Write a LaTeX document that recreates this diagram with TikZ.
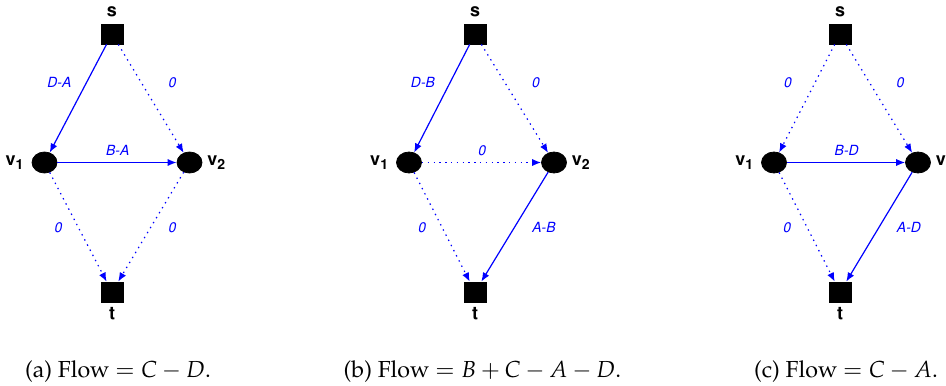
\documentclass[tikz,border=0pt]{standalone}
\usepackage[T1]{fontenc}
\usepackage{mathpazo}
\usepackage{helvet}
\usetikzlibrary{arrows.meta,positioning,shapes.geometric}
\tikzset{
  termbox/.style={draw=black, fill=black, minimum width=11pt, minimum height=10pt, inner sep=0pt},
  midnode/.style={ellipse, draw=black, fill=black, minimum width=12.5pt, minimum height=10.5pt, inner sep=0pt},
  nodelabel/.style={font=\small\sffamily\bfseries},
  flowsolid/.style={-{Latex[length=4.5pt,width=3.6pt]}, draw=blue, line width=0.6pt},
  flowdotted/.style={flowsolid, dash pattern=on 0.7pt off 2.2pt},
  flowlabel/.style={font=\scriptsize\sffamily\itshape, text=blue, inner sep=0pt},
  caption/.style={anchor=base, font=\fontsize{11.6}{14}\selectfont},
}

\begin{document}
\begin{tikzpicture}[x=0.5pt, y=-0.5pt]
    \useasboundingbox (0,0) rectangle (946,385);

    % (a)
    \begin{scope}[xshift=56pt]
    \node[termbox, label={[nodelabel]above:s}] (s-a) at (0,34) {};
    \node[midnode, label={[nodelabel]left:v\textsubscript{1}}] (v1-a) at (-67.5,162.5) {};
    \node[midnode, label={[nodelabel, label distance=-1pt]right:v\textsubscript{2}}] (v2-a) at (77.5,162.5) {};
    \node[termbox, label={[nodelabel, label distance=-1pt]below:t}] (t-a) at (0,292) {};
    \draw[flowsolid] (s-a) -- node[flowlabel, pos=0.35, xshift=-14pt] {D-A} (v1-a);
    \draw[flowdotted] (s-a) -- node[flowlabel, pos=0.35, anchor=west, xshift=13pt] {0} (v2-a);
    \draw[flowsolid] (v1-a) -- node[flowlabel, above=3pt] {B-A} (v2-a);
    \draw[flowdotted] (v1-a) -- node[flowlabel, pos=0.51, xshift=-10.5pt] {0} (t-a);
    \draw[flowdotted] (v2-a) -- node[flowlabel, pos=0.51, anchor=west, xshift=8.5pt] {0} (t-a);
    \end{scope}

    % (b)
    \begin{scope}[xshift=237.5pt]
    \node[termbox, label={[nodelabel]above:s}] (s-b) at (0,34) {};
    \node[midnode, label={[nodelabel]left:v\textsubscript{1}}] (v1-b) at (-66,162.5) {};
    \node[midnode, label={[nodelabel, label distance=-1pt]right:v\textsubscript{2}}] (v2-b) at (79,162.5) {};
    \node[termbox, label={[nodelabel, label distance=-1pt]below:t}] (t-b) at (0,292) {};
    \draw[flowsolid] (s-b) -- node[flowlabel, pos=0.35, xshift=-14pt] {D-B} (v1-b);
    \draw[flowdotted] (s-b) -- node[flowlabel, pos=0.35, anchor=west, xshift=13pt] {0} (v2-b);
    \draw[flowdotted] (v1-b) -- node[flowlabel, above=3pt] {0} (v2-b);
    \draw[flowdotted] (v1-b) -- node[flowlabel, pos=0.51, xshift=-10.5pt] {0} (t-b);
    \draw[flowsolid] (v2-b) -- node[flowlabel, pos=0.51, anchor=west, xshift=8.5pt] {A-B} (t-b);
    \end{scope}

    % (c)
    \begin{scope}[xshift=420pt]
    \node[termbox, label={[nodelabel]above:s}] (s-c) at (0,34) {};
    \node[midnode, label={[nodelabel]left:v\textsubscript{1}}] (v1-c) at (-66,162.5) {};
    \node[midnode, label={[nodelabel, label distance=-1pt]right:v\textsubscript{2}}] (v2-c) at (78,162.5) {};
    \node[termbox, label={[nodelabel, label distance=-1pt]below:t}] (t-c) at (0,292) {};
    \draw[flowdotted] (s-c) -- node[flowlabel, pos=0.35, xshift=-14pt] {0} (v1-c);
    \draw[flowdotted] (s-c) -- node[flowlabel, pos=0.35, anchor=west, xshift=13pt] {0} (v2-c);
    \draw[flowsolid] (v1-c) -- node[flowlabel, above=3pt] {B-D} (v2-c);
    \draw[flowdotted] (v1-c) -- node[flowlabel, pos=0.51, xshift=-10.5pt] {0} (t-c);
    \draw[flowsolid] (v2-c) -- node[flowlabel, pos=0.51, anchor=west, xshift=8.5pt] {A-D} (t-c);
    \end{scope}

    % captions
    \node[caption] (cap-a) at (118,377) {(a) Flow $= C - D$.};
    \node[caption] (cap-b) at (482.5,377) {(b) Flow $= B + C - A - D$.};
    \node[caption] (cap-c) at (846,377) {(c) Flow $= C - A$.};
\end{tikzpicture}
\end{document}
